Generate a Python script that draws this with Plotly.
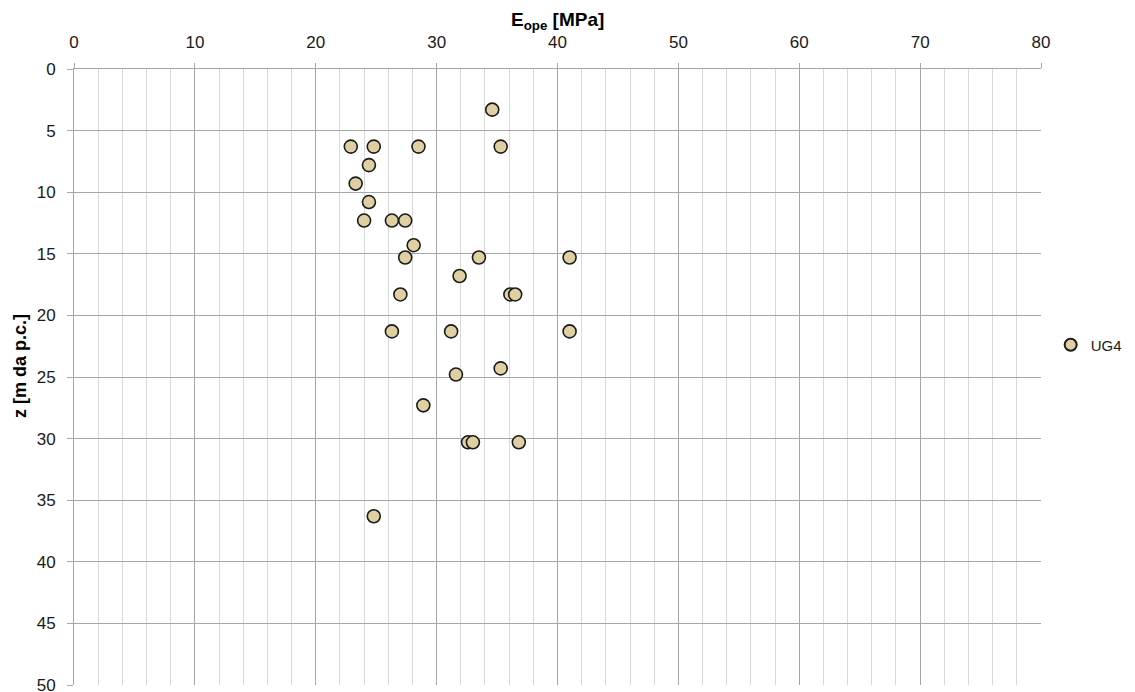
import plotly.graph_objects as go

# Data
E_ope = [34.6, 22.9, 24.8, 28.5, 35.3, 24.4, 23.3, 24.4, 24.0, 26.3, 27.4,
         28.1, 27.4, 33.5, 41.0, 31.9, 27.0, 36.1, 36.5, 26.3, 31.2, 41.0,
         35.3, 31.6, 28.9, 32.6, 33.0, 36.8, 24.8]
z = [3.3, 6.3, 6.3, 6.3, 6.3, 7.8, 9.3, 10.8, 12.3, 12.3, 12.3,
     14.3, 15.3, 15.3, 15.3, 16.8, 18.3, 18.3, 18.3, 21.3, 21.3, 21.3,
     24.3, 24.8, 27.3, 30.3, 30.3, 30.3, 36.3]
series_name = "UG4"
x_title = "<b>E<sub>ope</sub> [MPa]</b>"
y_title = "<b>z [m da p.c.]</b>"

fig = go.Figure()
fig.add_trace(go.Scatter(
    x=E_ope, y=z, mode="markers", name=series_name,
    marker=dict(size=13, color="#DFCFA3", line=dict(color="#1a1a1a", width=1.6)),
))

font = "Liberation Sans, Arial, sans-serif"
# the page body has an 8px margin, so the figure is sized/offset to compensate
fig.update_layout(
    width=1127, height=684,
    margin=dict(l=65.5, r=93.5, t=61.3, b=6.7),
    paper_bgcolor="white", plot_bgcolor="white",
    font=dict(family=font, size=17, color="#1a1a1a"),
    showlegend=True,
    legend=dict(x=1.01, xanchor="left", y=0.552, yanchor="middle",
                font=dict(size=15), itemsizing="constant",
                bgcolor="rgba(0,0,0,0)"),
    xaxis=dict(
        side="top", range=[0, 80], dtick=10, tick0=0,
        showgrid=True, gridcolor="#a6a6a6", gridwidth=1,
        minor=dict(dtick=2, showgrid=True, gridcolor="#d9d9d9", gridwidth=1),
        ticks="outside", ticklen=5, tickcolor="#a6a6a6",
        ticklabelstandoff=8, ticklabeloverflow="allow",
        showline=True, linecolor="#a6a6a6", linewidth=1,
        zeroline=False, automargin=False,
    ),
    yaxis=dict(
        range=[50, 0], dtick=5, tick0=0,
        showgrid=True, gridcolor="#a6a6a6", gridwidth=1,
        ticks="outside", ticklen=6, tickcolor="#a6a6a6",
        ticklabelstandoff=8, ticklabeloverflow="allow",
        showline=True, linecolor="#a6a6a6", linewidth=1,
        zeroline=False, automargin=False,
    ),
    annotations=[
        dict(text=x_title, xref="paper", yref="paper", x=0.5, y=1.0785,
             xanchor="center", yanchor="middle", showarrow=False, borderpad=0,
             font=dict(size=19, color="#000000")),
        dict(text=y_title, xref="paper", yref="paper", x=-0.0563, y=0.517,
             xanchor="center", yanchor="middle", showarrow=False, textangle=-90,
             font=dict(size=18, color="#000000")),
    ],
)

fig.write_html("out.html")
